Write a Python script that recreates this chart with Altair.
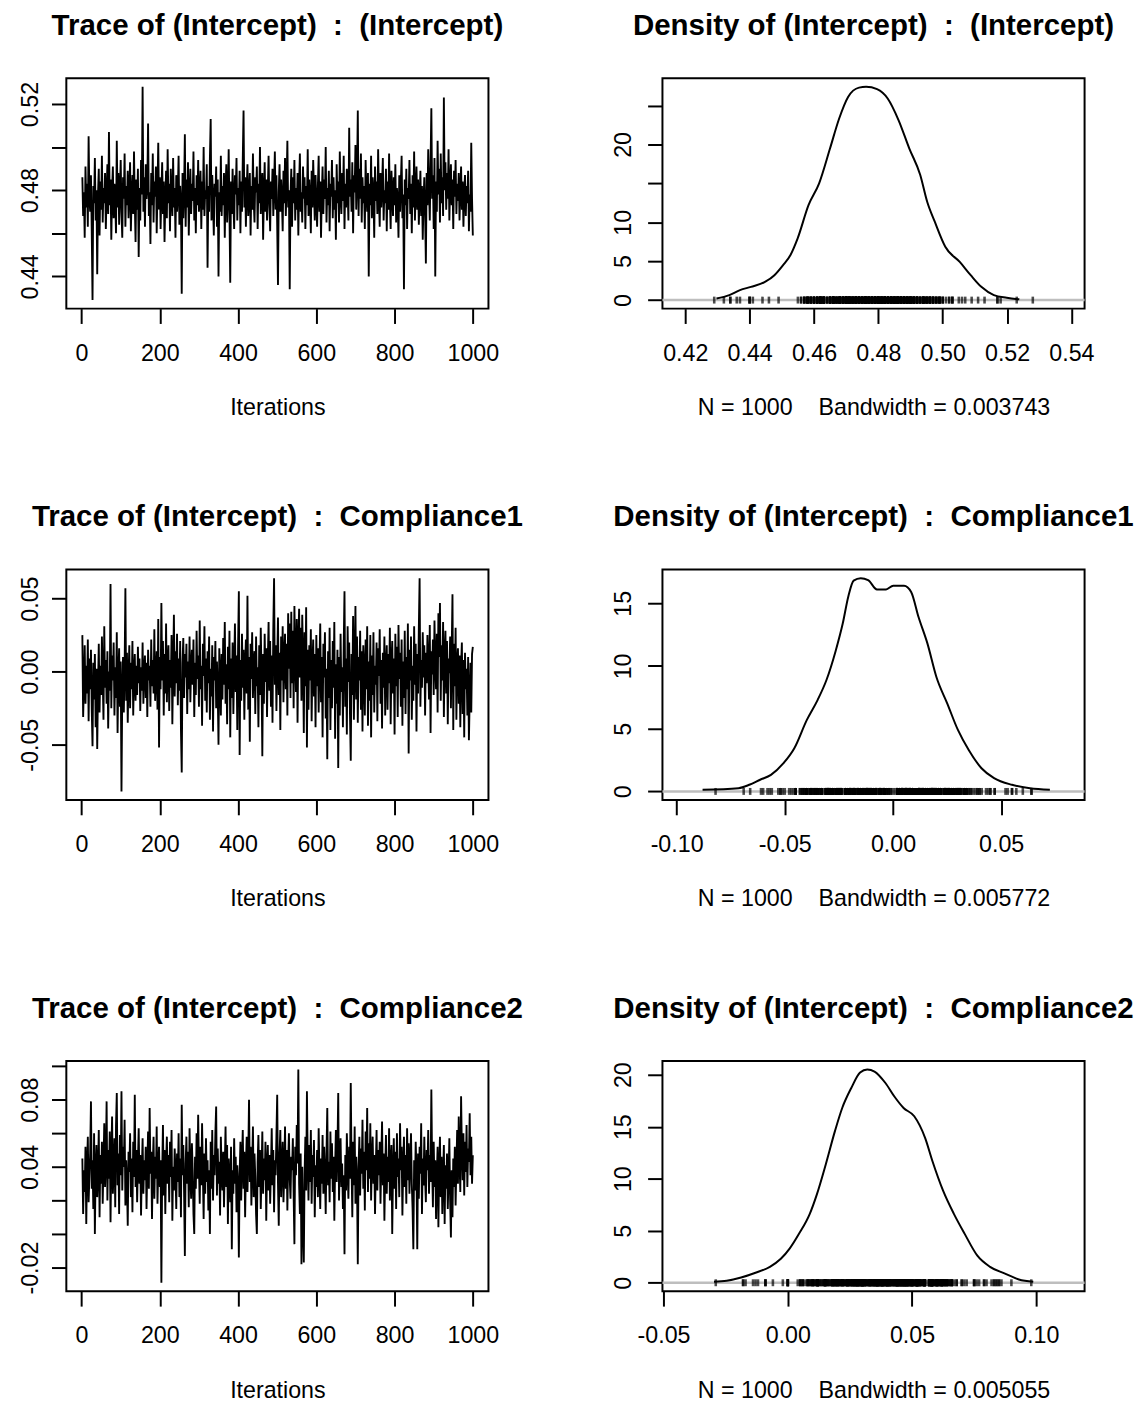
import altair as alt
import pandas as pd

FONT = "Liberation Sans"
NBSP = "\u00a0"

# ---------------- data ----------------
chain_start, chain_end = 1, 1000
n_samples = 1000
thin = 2  # every second iteration is kept here
params = ["(Intercept)", "Compliance1", "Compliance2"]
bandwidths = [0.003743, 0.005772, 0.005055]

trace_intercept = [
    0.486, 0.468, 0.479, 0.458, 0.491, 0.472, 0.483, 0.463, 0.505, 0.476,
    0.470, 0.487, 0.461, 0.429, 0.482, 0.474, 0.495, 0.466, 0.480, 0.441,
    0.478, 0.490, 0.459, 0.484, 0.471, 0.496, 0.465, 0.481, 0.474, 0.488,
    0.462, 0.479, 0.492, 0.469, 0.507, 0.473, 0.485, 0.457, 0.480, 0.491,
    0.467, 0.483, 0.475, 0.460, 0.503, 0.472, 0.488, 0.464, 0.479, 0.494,
    0.470, 0.458, 0.486, 0.476, 0.497, 0.463, 0.482, 0.473, 0.489, 0.467,
    0.480, 0.493, 0.461, 0.477, 0.487, 0.469, 0.498, 0.474, 0.456, 0.485,
    0.471, 0.490, 0.449, 0.481, 0.466, 0.494, 0.478, 0.528, 0.470, 0.486,
    0.463, 0.492, 0.476, 0.482, 0.511, 0.468, 0.479, 0.455, 0.488, 0.473,
    0.497, 0.465, 0.484, 0.477, 0.491, 0.460, 0.480, 0.502, 0.471, 0.486,
    0.462, 0.478, 0.493, 0.469, 0.484, 0.456, 0.475, 0.489, 0.467, 0.499,
    0.474, 0.483, 0.461, 0.490, 0.477, 0.468, 0.495, 0.472, 0.481, 0.458,
    0.487, 0.470, 0.479, 0.496, 0.464, 0.482, 0.474, 0.432, 0.488, 0.467,
    0.480, 0.506, 0.463, 0.485, 0.472, 0.493, 0.459, 0.478, 0.490, 0.469,
    0.483, 0.475, 0.498, 0.466, 0.481, 0.460, 0.487, 0.473, 0.494, 0.470,
    0.478, 0.489, 0.462, 0.484, 0.471, 0.500, 0.468, 0.480, 0.476, 0.492,
    0.444, 0.482, 0.470, 0.495, 0.513, 0.466, 0.487, 0.474, 0.459, 0.483,
    0.477, 0.491, 0.463, 0.485, 0.440, 0.479, 0.470, 0.496, 0.468, 0.482,
    0.473, 0.488, 0.458, 0.481, 0.492, 0.465, 0.476, 0.499, 0.470, 0.437,
    0.484, 0.469, 0.490, 0.475, 0.462, 0.487, 0.478, 0.495, 0.466, 0.481,
    0.473, 0.489, 0.460, 0.484, 0.470, 0.494, 0.517, 0.472, 0.486, 0.463,
    0.480, 0.492, 0.468, 0.477, 0.488, 0.459, 0.482, 0.471, 0.497, 0.475,
    0.465, 0.486, 0.479, 0.491, 0.462, 0.483, 0.474, 0.500, 0.469, 0.481,
    0.488, 0.457, 0.478, 0.493, 0.470, 0.485, 0.466, 0.480, 0.496, 0.473,
    0.461, 0.484, 0.476, 0.490, 0.468, 0.482, 0.498, 0.471, 0.487, 0.464,
    0.436, 0.479, 0.492, 0.470, 0.485, 0.476, 0.461, 0.489, 0.474, 0.495,
    0.468, 0.483, 0.503, 0.472, 0.480, 0.434, 0.477, 0.490, 0.463, 0.486,
    0.474, 0.494, 0.466, 0.481, 0.471, 0.488, 0.459, 0.483, 0.497, 0.470,
    0.479, 0.465, 0.491, 0.476, 0.486, 0.462, 0.482, 0.473, 0.499, 0.468,
    0.485, 0.477, 0.460, 0.489, 0.472, 0.494, 0.480, 0.466, 0.487, 0.475,
    0.463, 0.482, 0.496, 0.470, 0.484, 0.458, 0.478, 0.491, 0.469, 0.485,
    0.476, 0.500, 0.465, 0.481, 0.473, 0.489, 0.461, 0.483, 0.477, 0.494,
    0.467, 0.486, 0.471, 0.480, 0.457, 0.492, 0.474, 0.484, 0.465, 0.498,
    0.478, 0.469, 0.488, 0.475, 0.496, 0.462, 0.483, 0.472, 0.490, 0.480,
    0.466, 0.509, 0.477, 0.485, 0.470, 0.493, 0.460, 0.487, 0.479, 0.501,
    0.471, 0.484, 0.517, 0.468, 0.490, 0.476, 0.497, 0.465, 0.486, 0.474,
    0.482, 0.462, 0.494, 0.478, 0.470, 0.488, 0.440, 0.483, 0.473, 0.496,
    0.467, 0.486, 0.479, 0.458, 0.491, 0.475, 0.484, 0.469, 0.499, 0.477,
    0.463, 0.488, 0.472, 0.482, 0.495, 0.466, 0.480, 0.474, 0.490, 0.461,
    0.484, 0.471, 0.497, 0.476, 0.462, 0.489, 0.479, 0.468, 0.486, 0.473,
    0.492, 0.465, 0.481, 0.475, 0.458, 0.487, 0.470, 0.483, 0.496, 0.467,
    0.478, 0.434, 0.485, 0.473, 0.490, 0.462, 0.481, 0.476, 0.494, 0.469,
    0.483, 0.460, 0.487, 0.472, 0.498, 0.466, 0.479, 0.491, 0.471, 0.485,
    0.464, 0.477, 0.489, 0.468, 0.482, 0.457, 0.475, 0.486, 0.470, 0.446,
    0.488, 0.473, 0.499, 0.481, 0.466, 0.492, 0.518, 0.476, 0.487, 0.462,
    0.495, 0.440, 0.484, 0.470, 0.503, 0.478, 0.490, 0.465, 0.497, 0.474,
    0.486, 0.468, 0.523, 0.480, 0.493, 0.471, 0.488, 0.476, 0.499, 0.466,
    0.482, 0.492, 0.473, 0.485, 0.462, 0.489, 0.477, 0.494, 0.469, 0.483,
    0.475, 0.488, 0.466, 0.480, 0.491, 0.471, 0.484, 0.463, 0.479, 0.487,
    0.468, 0.482, 0.474, 0.489, 0.461, 0.478, 0.470, 0.502, 0.476, 0.459,
]

trace_compliance1 = [
    0.025, -0.031, -0.008, 0.018, -0.022, 0.004, -0.015, 0.022, -0.034, 0.009,
    -0.012, 0.015, -0.026, -0.051, 0.006, -0.019, 0.012, -0.038, 0.002, -0.053,
    -0.010, 0.019, -0.028, 0.004, -0.016, 0.024, -0.004, -0.033, 0.031, -0.011,
    0.008, -0.022, 0.014, -0.039, 0.000, -0.013, 0.060, -0.025, 0.011, -0.006,
    0.020, -0.030, 0.003, -0.018, 0.027, -0.042, -0.002, 0.016, -0.024, 0.007,
    -0.082, -0.014, 0.010, -0.028, 0.002, 0.057, -0.020, 0.013, -0.035, -0.004,
    0.018, -0.025, 0.006, -0.012, 0.021, -0.030, -0.001, 0.012, -0.020, 0.004,
    -0.016, 0.017, -0.008, 0.009, -0.027, 0.003, -0.013, 0.020, -0.022, 0.001,
    0.011, -0.018, 0.006, -0.031, 0.015, -0.006, 0.004, -0.024, 0.022, -0.010,
    0.008, -0.015, 0.029, -0.020, -0.003, 0.014, -0.026, 0.036, -0.052, 0.010,
    -0.012, 0.047, -0.006, 0.021, -0.030, 0.012, -0.015, 0.033, -0.021, 0.005,
    0.018, -0.027, 0.008, -0.011, 0.025, -0.036, 0.003, 0.039, -0.017, 0.014,
    -0.008, 0.026, -0.023, 0.009, -0.013, 0.021, -0.040, -0.069, 0.006, 0.023,
    -0.018, 0.012, -0.004, 0.019, -0.029, 0.007, -0.012, 0.024, -0.021, 0.003,
    0.015, -0.009, 0.022, -0.031, 0.006, -0.016, 0.028, -0.005, 0.011, -0.024,
    0.035, -0.012, 0.004, -0.037, 0.019, -0.003, 0.031, -0.020, 0.009, -0.028,
    0.014, -0.008, 0.024, -0.033, 0.002, -0.017, 0.018, -0.041, 0.010, -0.006,
    0.021, -0.025, 0.007, -0.014, -0.050, 0.016, -0.002, -0.030, 0.012, -0.019,
    0.023, -0.009, 0.034, -0.022, 0.005, -0.036, 0.017, -0.012, 0.028, -0.045,
    0.009, -0.018, 0.020, -0.029, 0.003, 0.033, -0.014, 0.011, -0.040, 0.017,
    0.055, -0.057, 0.008, -0.020, 0.026, -0.011, 0.015, -0.033, 0.004, 0.022,
    -0.015, 0.052, -0.026, 0.010, -0.048, 0.019, -0.005, 0.027, -0.018, 0.006,
    0.014, -0.029, 0.024, -0.010, 0.003, -0.038, 0.018, -0.016, 0.030, -0.004,
    -0.058, 0.012, -0.022, 0.026, -0.007, 0.016, -0.031, 0.008, 0.034, -0.013,
    0.021, -0.024, 0.011, -0.035, 0.029, 0.064, -0.009, 0.018, -0.027, 0.006,
    0.037, -0.016, 0.013, -0.040, 0.024, -0.006, 0.031, -0.021, 0.009, 0.026,
    -0.012, 0.019, -0.030, 0.040, 0.002, 0.033, -0.018, 0.041, -0.008, 0.028,
    -0.025, 0.045, 0.011, -0.014, 0.036, -0.035, 0.020, 0.043, -0.004, 0.030,
    -0.020, 0.039, 0.008, -0.042, 0.027, -0.010, 0.044, -0.052, 0.015, -0.026,
    0.018, -0.006, 0.029, -0.034, 0.004, 0.022, -0.017, 0.012, -0.038, 0.025,
    -0.010, 0.016, -0.028, 0.006, 0.033, -0.021, 0.010, -0.045, 0.019, -0.004,
    0.027, -0.032, 0.002, -0.060, 0.014, -0.018, 0.030, -0.040, 0.008, -0.025,
    0.021, -0.011, 0.034, -0.046, 0.005, -0.022, 0.015, -0.066, 0.010, -0.030,
    0.026, -0.014, 0.003, -0.038, 0.018, 0.055, -0.024, 0.009, -0.043, 0.031,
    -0.007, 0.020, -0.029, -0.061, 0.012, -0.016, 0.038, -0.033, 0.006, 0.045,
    -0.019, 0.024, -0.035, 0.010, -0.006, 0.028, -0.026, 0.014, -0.041, 0.018,
    0.002, -0.030, 0.022, -0.012, 0.031, -0.037, 0.007, -0.020, 0.025, -0.045,
    0.011, -0.016, 0.027, -0.028, 0.004, -0.009, 0.020, -0.034, 0.016, -0.003,
    0.029, -0.022, 0.008, -0.039, 0.013, -0.011, 0.024, -0.030, 0.003, 0.018,
    -0.026, 0.012, -0.008, 0.030, -0.036, 0.005, 0.021, -0.015, 0.009, -0.043,
    0.026, -0.010, 0.017, -0.031, 0.032, -0.005, 0.013, -0.024, 0.022, -0.037,
    0.007, -0.018, 0.028, -0.029, 0.010, -0.012, 0.033, -0.056, 0.015, -0.006,
    0.024, -0.033, 0.004, -0.020, 0.031, -0.009, 0.019, -0.041, 0.012, -0.015,
    0.030, 0.064, -0.024, 0.008, -0.011, 0.027, -0.004, 0.018, -0.030, 0.013,
    -0.008, 0.025, 0.006, -0.019, 0.032, -0.042, 0.014, -0.002, 0.022, -0.016,
    0.035, 0.004, -0.012, 0.026, -0.028, 0.040, 0.010, 0.047, -0.020, 0.018,
    -0.006, 0.034, -0.031, 0.012, 0.028, -0.015, 0.021, -0.036, 0.009, -0.001,
    0.024, -0.025, 0.014, 0.053, -0.040, 0.019, -0.010, 0.030, -0.033, 0.006,
    0.016, -0.022, 0.011, -0.038, 0.004, 0.020, -0.029, 0.008, -0.045, 0.013,
    -0.012, 0.002, -0.030, 0.010, -0.047, -0.018, 0.006, -0.028, 0.012, 0.017,
]

trace_compliance2 = [
    0.045, 0.012, 0.038, 0.025, 0.052, 0.006, 0.041, 0.058, 0.019, 0.034,
    0.048, 0.079, 0.027, 0.044, 0.015, 0.060, 0.000, 0.039, 0.053, 0.022,
    0.036, 0.062, 0.010, 0.047, 0.030, 0.055, 0.018, 0.041, 0.066, 0.028,
    0.043, 0.079, 0.020, 0.050, 0.033, 0.061, 0.007, 0.046, 0.070, 0.024,
    0.039, 0.057, 0.016, 0.064, 0.084, 0.029, 0.048, 0.012, 0.059, 0.035,
    0.085, 0.026, 0.052, 0.040, 0.068, 0.017, 0.044, 0.031, 0.005, 0.049,
    0.037, 0.060, 0.022, 0.045, 0.013, 0.055, 0.034, 0.083, 0.028, 0.050,
    0.019, 0.042, 0.063, 0.030, 0.047, 0.011, 0.038, 0.057, 0.024, 0.044,
    0.032, 0.052, 0.015, 0.040, 0.061, 0.027, 0.075, 0.036, 0.049, 0.009,
    0.041, 0.058, 0.021, 0.046, 0.033, 0.064, 0.018, 0.039, 0.052, 0.028,
    0.044, -0.029, 0.036, 0.065, 0.023, 0.050, 0.012, 0.042, 0.058, 0.030,
    0.047, 0.019, 0.055, 0.034, 0.062, 0.008, 0.040, 0.026, 0.051, 0.037,
    0.015, 0.048, 0.031, 0.060, 0.022, 0.045, 0.010, 0.077, 0.035, 0.053,
    0.025, -0.013, 0.042, 0.058, 0.030, 0.049, 0.016, 0.063, 0.036, 0.021,
    0.054, 0.038, 0.012, 0.000, 0.046, 0.027, 0.060, 0.033, 0.071, 0.040,
    0.018, 0.052, 0.029, 0.066, 0.036, 0.009, 0.048, 0.024, 0.057, 0.031,
    0.044, 0.014, 0.038, 0.000, 0.055, 0.027, 0.062, 0.020, 0.047, 0.035,
    0.060, 0.076, 0.023, 0.051, 0.030, 0.043, 0.011, 0.058, 0.037, 0.026,
    0.049, 0.016, 0.040, 0.064, 0.028, 0.053, 0.006, 0.045, 0.033, 0.019,
    0.052, -0.009, 0.038, 0.024, 0.057, 0.030, 0.046, 0.013, 0.041, 0.029,
    -0.014, 0.036, 0.055, 0.020, 0.044, 0.062, 0.027, 0.049, 0.010, 0.039,
    0.058, 0.025, 0.046, 0.080, 0.031, 0.052, 0.017, 0.040, 0.064, 0.022,
    0.048, 0.034, 0.012, 0.000, 0.043, 0.059, 0.028, 0.050, 0.015, 0.037,
    0.061, 0.024, 0.045, 0.032, 0.055, 0.008, 0.040, 0.053, 0.026, 0.047,
    0.018, 0.038, 0.063, 0.029, 0.050, 0.013, 0.044, 0.035, 0.058, 0.083,
    0.030, 0.005, 0.048, 0.062, 0.022, 0.041, 0.055, 0.019, 0.036, 0.064,
    0.027, 0.050, 0.014, 0.043, 0.060, 0.033, 0.021, 0.046, 0.038, 0.057,
    0.024, -0.006, 0.052, 0.035, 0.065, 0.042, 0.098, 0.030, 0.012, 0.048,
    -0.018, 0.040, 0.005, -0.017, 0.036, 0.058, 0.026, 0.085, 0.044, 0.020,
    0.053, 0.031, 0.062, 0.018, 0.047, 0.034, 0.056, 0.010, 0.041, 0.028,
    0.050, 0.022, 0.063, 0.037, 0.015, 0.045, 0.030, 0.059, 0.024, 0.052,
    0.036, 0.012, 0.048, 0.075, 0.029, 0.043, 0.019, 0.061, 0.033, 0.054,
    0.025, 0.046, 0.008, 0.039, 0.062, 0.031, 0.050, 0.084, 0.020, 0.044,
    0.057, 0.028, 0.042, 0.015, 0.035, -0.012, 0.047, 0.026, 0.060, 0.038,
    0.021, 0.052, 0.033, 0.090, 0.041, 0.010, 0.055, 0.029, 0.064, 0.018,
    0.046, 0.032, -0.018, 0.040, 0.058, 0.023, 0.051, 0.036, 0.068, 0.027,
    0.049, 0.014, 0.061, 0.038, 0.075, 0.025, 0.054, 0.033, 0.066, 0.020,
    0.044, 0.058, 0.030, 0.047, 0.012, 0.039, 0.062, 0.026, 0.050, 0.035,
    0.055, 0.018, 0.043, 0.067, 0.029, 0.048, 0.008, 0.037, 0.059, 0.024,
    0.046, 0.031, 0.063, 0.020, 0.041, 0.053, 0.000, 0.036, 0.057, 0.027,
    0.049, 0.015, 0.060, 0.034, 0.045, 0.022, 0.066, 0.038, 0.052, 0.011,
    0.040, 0.058, 0.028, 0.047, 0.018, 0.063, 0.032, 0.054, 0.024, 0.042,
    0.060, 0.030, 0.015, -0.009, 0.044, 0.026, 0.055, 0.037, -0.009, 0.048,
    0.021, 0.052, 0.036, 0.066, 0.012, 0.045, 0.029, 0.058, 0.033, 0.019,
    0.050, 0.038, 0.062, 0.024, 0.047, 0.031, 0.086, 0.040, 0.016, 0.055,
    0.028, 0.044, 0.009, 0.035, 0.052, 0.004, 0.039, 0.058, 0.022, 0.046,
    0.012, 0.036, 0.053, 0.006, 0.041, 0.027, 0.048, 0.015, 0.034, 0.057,
    0.020, -0.002, 0.038, 0.010, 0.045, 0.028, 0.052, 0.017, 0.040, 0.062,
    0.030, 0.070, 0.044, 0.025, 0.082, 0.050, 0.032, 0.060, 0.023, 0.055,
    0.037, 0.065, 0.028, 0.051, 0.043, 0.072, 0.035, 0.058, 0.030, 0.047,
]

dens_intercept_x = [0.4297, 0.4337, 0.4370, 0.4404, 0.4449, 0.4477, 0.4504, 0.4527,
                    0.4549, 0.4583, 0.4616, 0.4650, 0.4678, 0.4706, 0.4740, 0.4762,
                    0.4796, 0.4829, 0.4863, 0.4896, 0.4930, 0.4952, 0.4975, 0.5008,
                    0.5053, 0.5087, 0.5120, 0.5159, 0.5199, 0.5238]
dens_intercept_y = [0.2, 0.64, 1.28, 1.7, 2.36, 3.2, 4.5, 5.8,
                    7.9, 12.2, 15.0, 19.5, 23.3, 26.1, 27.3, 27.4,
                    27.1, 25.9, 23.1, 19.5, 16.1, 12.6, 10.1, 6.85,
                    4.9, 3.2, 1.7, 0.64, 0.3, 0.1]

dens_compliance1_x = [-0.0880, -0.0714, -0.0664, -0.0614, -0.0564, -0.0506, -0.0456, -0.0398,
                      -0.0348, -0.0307, -0.0265, -0.0232, -0.0207, -0.0182, -0.0149, -0.0115,
                      -0.0074, -0.0032, 0.0001, 0.0051, 0.0084, 0.0118, 0.0159, 0.0201,
                      0.0251, 0.0300, 0.0350, 0.0409, 0.0467, 0.0550, 0.0633, 0.0725]
dens_compliance1_y = [0.13, 0.26, 0.53, 0.93, 1.32, 2.25, 3.44, 5.7,
                      7.3, 8.9, 11.2, 13.4, 15.5, 16.8, 17.0, 16.85,
                      16.1, 16.1, 16.4, 16.4, 15.9, 13.9, 11.8, 9.1,
                      7.0, 4.9, 3.3, 1.85, 1.06, 0.53, 0.26, 0.13]

dens_compliance2_x = [-0.0297, -0.0246, -0.0188, -0.0130, -0.0072, -0.0028, 0.0008, 0.0045,
                      0.0088, 0.0117, 0.0153, 0.0190, 0.0219, 0.0255, 0.0291, 0.0320,
                      0.0349, 0.0393, 0.0429, 0.0466, 0.0509, 0.0553, 0.0582, 0.0625,
                      0.0669, 0.0712, 0.0763, 0.0814, 0.0872, 0.0930, 0.0988]
dens_compliance2_y = [0.1, 0.19, 0.5, 0.96, 1.53, 2.3, 3.3, 4.7,
                      6.6, 8.5, 11.4, 14.6, 16.8, 18.7, 20.2, 20.5,
                      20.3, 19.2, 17.9, 16.8, 16.0, 13.9, 11.7, 8.85,
                      6.6, 4.7, 2.6, 1.53, 0.9, 0.32, 0.1]

iter_ticks = [0, 200, 400, 600, 800, 1000]
trace_yticks = [[0.44, 0.46, 0.48, 0.50, 0.52], [-0.05, 0.0, 0.05],
                [-0.02, 0.0, 0.02, 0.04, 0.06, 0.08, 0.10]]
trace_ylabels = [[0.44, 0.48, 0.52], [-0.05, 0.0, 0.05], [-0.02, 0.04, 0.08]]
dens_xticks = [[0.42, 0.44, 0.46, 0.48, 0.50, 0.52, 0.54], [-0.10, -0.05, 0.0, 0.05],
               [-0.05, 0.0, 0.05, 0.10]]
dens_yticks = [[0, 5, 10, 15, 20, 25], [0, 5, 10, 15], [0, 5, 10, 15, 20]]
dens_ylabels = [[0, 5, 10, 20], [0, 5, 10, 15], [0, 5, 10, 15, 20]]

traces = [trace_intercept, trace_compliance1, trace_compliance2]
dens_x = [dens_intercept_x, dens_compliance1_x, dens_compliance2_x]
dens_y = [dens_intercept_y, dens_compliance1_y, dens_compliance2_y]

# ---------------- styling ----------------
W, H = 427, 233
TICK = 15
FS = 23.5
TITLE_FS = 29.8


def label_expr(shown, fmt):
    cond = " || ".join(f"abs(datum.value - ({v})) < 1e-9" for v in shown)
    return f"({cond}) ? replace(format(datum.value, '{fmt}'), '\u2212', '-') : ''"


def x_axis(values, title, fmt):
    return alt.Axis(values=values, title=title, labelExpr=label_expr(values, fmt),
                    tickSize=TICK, tickWidth=2, tickColor="black", domain=False, grid=False,
                    labelBaseline="alphabetic", labelPadding=37, labelFont=FONT,
                    labelFontSize=FS, labelColor="black", labelOverlap=False,
                    labelFlush=False, titleFont=FONT, titleFontSize=FS,
                    titleFontWeight="normal", titleColor="black",
                    titleBaseline="alphabetic", titleY=107)


def y_axis(values, shown, fmt, pad):
    return alt.Axis(values=values, title=None, labelExpr=label_expr(shown, fmt),
                    labelAngle=270, labelAlign="center", labelBaseline="alphabetic",
                    labelPadding=pad, tickSize=TICK, tickWidth=2, tickColor="black",
                    domain=False, grid=False, labelFont=FONT, labelFontSize=FS,
                    labelColor="black", labelOverlap=False, labelFlush=False)


def panel_title(text):
    return alt.TitleParams(text=text, font=FONT, fontSize=TITLE_FS, fontWeight="bold",
                           anchor="middle", frame="group", baseline="alphabetic",
                           offset=14, color="black")


def pad_domain(lo, hi):
    r = hi - lo
    return [lo - 0.04 * r, hi + 0.04 * r]


def trace_panel(k):
    vals = traces[k]
    iters = list(range(thin, thin * len(vals) + 1, thin))
    df = pd.DataFrame({"iter": iters, "val": vals})
    xs = alt.Scale(domain=pad_domain(chain_start, chain_end), nice=False, zero=False)
    ys = alt.Scale(domain=pad_domain(min(vals), max(vals)), nice=False, zero=False)
    title = f"Trace of (Intercept){NBSP}{NBSP}:{NBSP}{NBSP}{params[k]}"
    return alt.Chart(df, title=panel_title(title)).mark_line(
        color="black", strokeWidth=1.9
    ).encode(
        x=alt.X("iter:Q", scale=xs, axis=x_axis(iter_ticks, "Iterations", "d")),
        y=alt.Y("val:Q", scale=ys,
                axis=y_axis(trace_yticks[k], trace_ylabels[k], ".2f", 14)),
    ).properties(width=W, height=H)


def density_panel(k):
    samples = traces[k]
    bw = bandwidths[k]
    curve_df = pd.DataFrame({"x": dens_x[k], "d": dens_y[k]})
    rug_df = pd.DataFrame({"x": samples})
    xs = alt.Scale(domain=pad_domain(min(samples) - 3 * bw, max(samples) + 3 * bw),
                   nice=False, zero=False)
    m = max(dens_y[k])
    ys = alt.Scale(domain=[-0.04 * m, 1.04 * m], nice=False, zero=False)
    xt = f"N = {n_samples}{NBSP}{NBSP}{NBSP}{NBSP}Bandwidth = {bw:.6f}"
    xa = x_axis(dens_xticks[k], xt, ".2f")
    ya = y_axis(dens_yticks[k], dens_ylabels[k], "d", 17)
    title = f"Density of (Intercept){NBSP}{NBSP}:{NBSP}{NBSP}{params[k]}"

    zero = alt.Chart(pd.DataFrame({"z": [0]})).mark_rule(
        color="#bebebe", strokeWidth=2.5
    ).encode(y=alt.YDatum(0, type="quantitative", scale=ys, axis=ya))
    rug = alt.Chart(rug_df).mark_tick(
        orient="vertical", color="black", size=7, thickness=2.6
    ).encode(
        x=alt.X("x:Q", scale=xs, axis=xa),
        y=alt.YDatum(0, type="quantitative", scale=ys, axis=ya),
    )
    curve = alt.Chart(curve_df).mark_line(
        color="black", strokeWidth=2, interpolate="monotone"
    ).encode(
        x=alt.X("x:Q", scale=xs, axis=xa),
        y=alt.Y("d:Q", scale=ys, axis=ya),
    )
    return alt.layer(zero, rug, curve, title=panel_title(title)).properties(width=W, height=H)


rows = [alt.hconcat(trace_panel(k), density_panel(k), spacing=176, bounds="flush")
        for k in range(3)]

chart = alt.vconcat(*rows, spacing=497, bounds="flush").properties(
    padding={"left": 9, "top": -6, "right": 0, "bottom": 0}
).configure(font=FONT).configure_view(stroke="black", strokeWidth=2)

chart.save("out.html", embed_options={"renderer": "svg", "actions": False})
